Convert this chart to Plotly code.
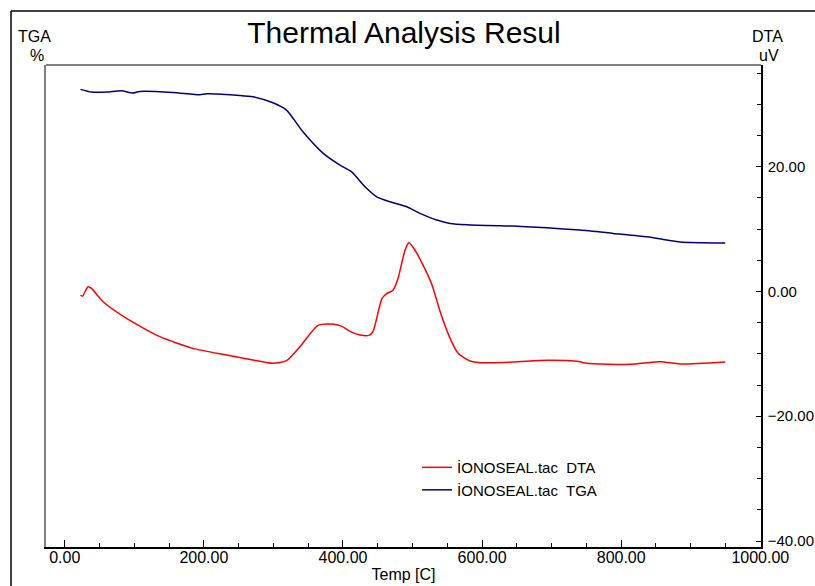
import plotly.graph_objects as go

# DTA (uV) vs temperature (C)
dta_temp = [22.6, 25.5, 33.5, 38.4, 55.1, 88.8, 136.7, 184.2, 232.7, 270.5, 299.3, 318.8,
            338.1, 364.0, 384.2, 398.6, 410.1, 424.5, 437.4, 443.2, 456.1, 463.3, 471.9,
            479.1, 489.2, 494.9, 503.6, 515.1, 528.1, 539.6, 554.0, 565.5, 582.7, 597.1,
            644.6, 693.1, 736.3, 750.6, 812.9, 856.1, 884.9, 949.6]
dta_val = [-0.59, -0.75, 0.75, 0.48, -1.65, -4.32, -7.25, -9.12, -10.19, -10.99, -11.52, -11.09,
           -8.85, -5.44, -5.23, -5.6, -6.4, -6.99, -7.04, -6.4, -1.12, -0.32, 0.21,
           2.08, 6.61, 7.79, 6.61, 4.21, 1.01, -3.2, -7.52, -9.92, -11.15, -11.41,
           -11.31, -11.04, -11.2, -11.52, -11.68, -11.25, -11.63, -11.31]

# TGA (%) vs temperature (C)
tga_temp = [22.6, 38.4, 60.0, 81.6, 97.8, 107.9, 155.4, 194.2, 203.9, 251.8, 270.5, 299.3,
            318.8, 342.4, 371.2, 395.7, 412.5, 431.7, 448.5, 467.6, 491.6, 510.8, 534.8,
            554.0, 578.0, 625.9, 644.6, 693.1, 741.0, 788.5, 837.0, 865.8, 884.9, 949.6]
tga_val = [100.0, 99.33, 99.33, 99.65, 99.08, 99.5, 99.25, 98.65, 98.9, 98.5, 98.15, 96.65,
           94.83, 89.4, 84.08, 81.08, 79.4, 75.65, 73.15, 71.9, 70.65, 69.0, 67.33,
           66.5, 66.15, 65.9, 65.83, 65.4, 64.83, 64.0, 63.15, 62.33, 61.83, 61.58]

x_ticks = [0, 200, 400, 600, 800, 1000]
dta_ticks = [-40, -20, 0, 20]

FONT = "Liberation Sans, Arial, sans-serif"

fig = go.Figure()
fig.add_trace(go.Scatter(x=dta_temp, y=dta_val, mode="lines", name="İONOSEAL.tac  DTA",
                         line=dict(color="#FF0000", width=1.5, shape="spline", smoothing=0.6),
                         yaxis="y"))
fig.add_trace(go.Scatter(x=tga_temp, y=tga_val, mode="lines", name="İONOSEAL.tac  TGA",
                         line=dict(color="#000080", width=1.5, shape="spline", smoothing=0.6),
                         yaxis="y2"))

fig.update_layout(
    width=815, height=586,
    margin=dict(l=46, r=54, t=65, b=39, autoexpand=False),
    paper_bgcolor="white", plot_bgcolor="white",
    font=dict(family=FONT, size=16, color="black"),
    title=dict(text="Thermal Analysis Resul", x=404/815, xanchor="center", xref="container",
               y=1 - 32/586, yanchor="middle", yref="container",
               font=dict(size=30, family=FONT, color="black")),
    xaxis=dict(range=[-27, 1001], tickvals=x_ticks, tickformat=".2f", automargin=False,
               ticklabelstandoff=-5,
               ticks="inside", ticklen=7, tickcolor="black", showline=True, linecolor="black",
               linewidth=1.5, showgrid=False, zeroline=False,
               minor=dict(dtick=50, ticks="inside", ticklen=4, tickcolor="black", showgrid=False),
               title=dict(text="Temp [C]", standoff=4, font=dict(size=16)),
               tickfont=dict(size=16)),
    yaxis=dict(range=[-40.96, 36.3], tickvals=dta_ticks, tickformat=".2f", side="right",
               automargin=False, ticklabelstandoff=2,
               ticks="inside", ticklen=5, tickcolor="black", showline=True, linecolor="black",
               linewidth=1.5, showgrid=False, zeroline=False,
               minor=dict(dtick=5, ticks="inside", ticklen=4, tickcolor="black", showgrid=False),
               tickfont=dict(size=15)),
    yaxis2=dict(range=[-14.4, 106.1], overlaying="y", side="left", showticklabels=False,
                automargin=False,
                ticks="", showline=True, linecolor="#808080", linewidth=2,
                showgrid=False, zeroline=False),
    legend=dict(x=0.519, y=0.199, xanchor="left", yanchor="top", bgcolor="rgba(0,0,0,0)",
                font=dict(size=15), tracegroupgap=0),
    showlegend=True,
    shapes=[
        # plot top border (gray)
        dict(type="line", xref="paper", yref="paper", x0=0, x1=1, y0=1, y1=1,
             line=dict(color="#808080", width=2)),
        # outer frame
        dict(type="line", xref="paper", yref="paper", x0=-35/715, x1=1.2, y0=536/482, y1=536/482,
             line=dict(color="black", width=1.5)),
        dict(type="line", xref="paper", yref="paper", x0=-35/715, x1=-35/715, y0=536/482, y1=-0.2,
             line=dict(color="black", width=1.5)),
    ],
    annotations=[
        dict(text="TGA", xref="paper", yref="paper", x=(34-46)/715, y=(547-36)/482,
             showarrow=False, xanchor="center", yanchor="middle", font=dict(size=16)),
        dict(text="%", xref="paper", yref="paper", x=(37-46)/715, y=(547-55)/482,
             showarrow=False, xanchor="center", yanchor="middle", font=dict(size=16)),
        dict(text="DTA", xref="paper", yref="paper", x=(767-46)/715, y=(547-36)/482,
             showarrow=False, xanchor="center", yanchor="middle", font=dict(size=16)),
        dict(text="uV", xref="paper", yref="paper", x=(769-46)/715, y=(547-55)/482,
             showarrow=False, xanchor="center", yanchor="middle", font=dict(size=16)),
    ],
)

fig.write_html("out.html")
